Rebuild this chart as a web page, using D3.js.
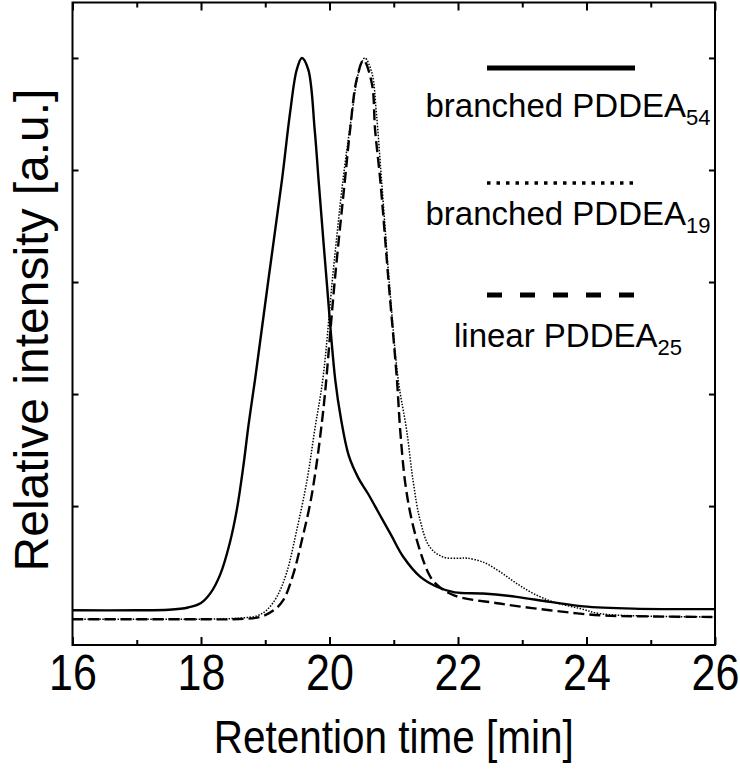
<!DOCTYPE html>
<html>
<head>
<meta charset="utf-8">
<script src="https://cdn.jsdelivr.net/npm/d3@7"></script>
<style>
  body { margin: 0; background: #fff; }
  svg text { font-family: "Liberation Sans", Arial, sans-serif; fill: #000; }
</style>
</head>
<body>
<svg id="chart"></svg>
<script>
"use strict";

// retention time [min] / relative intensity
var timeB54 = [16.0, 17.0, 17.5, 17.8, 18.0, 18.15, 18.3, 18.45, 18.56, 18.66, 18.74, 18.84, 19.05, 19.26, 19.385, 19.49, 19.57,
  19.67, 19.77, 19.83, 19.95, 20.09, 20.18, 20.3, 20.45, 20.6, 20.78, 20.96, 21.15, 21.41, 21.67, 21.95, 22.39, 22.91, 23.43, 23.95, 24.73, 26.0];
var intB54 = [0.014, 0.014, 0.015, 0.019, 0.027, 0.045, 0.078, 0.135, 0.195, 0.272, 0.345, 0.425, 0.605, 0.782, 0.901, 0.979, 1.0,
  0.979, 0.871, 0.782, 0.61, 0.425, 0.355, 0.29, 0.25, 0.222, 0.185, 0.148, 0.109, 0.074, 0.056, 0.046, 0.044, 0.038, 0.029, 0.021, 0.017, 0.016];

var timeB19 = [16.0, 17.0, 18.0, 18.6, 18.87, 19.02, 19.18, 19.33, 19.49, 19.65, 19.77, 19.9, 20.05, 20.21, 20.35, 20.45, 20.55,
  20.66, 20.73, 20.81, 20.93, 21.07, 21.2, 21.3, 21.41, 21.56, 21.77, 22.03, 22.14, 22.39, 22.65, 22.91, 23.17, 23.48, 23.9, 24.21, 24.8, 26.0];
var intB19 = [-0.002, -0.002, -0.002, 0.0, 0.004, 0.014, 0.038, 0.08, 0.157, 0.246, 0.336, 0.43, 0.61, 0.782, 0.901, 0.973, 1.0,
  0.973, 0.901, 0.782, 0.6, 0.425, 0.336, 0.246, 0.175, 0.127, 0.109, 0.107, 0.107, 0.1, 0.083, 0.062, 0.044, 0.029, 0.017, 0.008, 0.004, 0.002];

var timeL25 = [16.0, 17.0, 18.0, 18.5, 18.92, 19.13, 19.28, 19.44, 19.57, 19.7, 19.8, 19.88, 19.93, 20.08, 20.24, 20.32, 20.42, 20.53,
  20.66, 20.71, 20.79, 20.92, 21.05, 21.1, 21.18, 21.28, 21.41, 21.54, 21.64, 21.93, 22.65, 23.43, 24.21, 25.0, 26.0];
var intL25 = [-0.002, -0.002, -0.002, -0.002, 0.002, 0.014, 0.032, 0.08, 0.139, 0.205, 0.276, 0.348, 0.401, 0.6, 0.782, 0.871, 0.96, 0.996,
  0.954, 0.871, 0.782, 0.6, 0.425, 0.336, 0.24, 0.175, 0.12, 0.08, 0.063, 0.041, 0.026, 0.014, 0.005, 0.003, 0.002];

var xMajor = [16, 18, 20, 22, 24, 26];
var xMinor = [17, 19, 21, 23, 25];
var yTicks = [0.2, 0.4, 0.6, 0.8, 1.0];

var seriesNames = ["branched PDDEA", "branched PDDEA", "linear PDDEA"];
var seriesSubs = ["54", "19", "25"];

var W = 740, H = 770;
var margin = {top: 2.5, right: 25, bottom: 125, left: 72.5};

var svg = d3.select("#chart").attr("width", W).attr("height", H);

var x = d3.scaleLinear().domain([16, 26]).range([margin.left, W - margin.right]);
var y = d3.scaleLinear().domain([-0.048, 1.099]).range([H - margin.bottom, margin.top]);

function pts(t, v) {
  return t.map(function (d, i) { return [d, v[i]]; });
}

var line = d3.line()
  .x(function (d) { return x(d[0]); })
  .y(function (d) { return y(d[1]); })
  .curve(d3.curveCatmullRom.alpha(0.5));

var styles = [
  {width: 2.4, dash: null},
  {width: 1.5, dash: "1.5,1.5"},
  {width: 2.4, dash: "11,5"}
];
var series = [pts(timeB54, intB54), pts(timeB19, intB19), pts(timeL25, intL25)];

series.forEach(function (s, i) {
  svg.append("path")
    .attr("d", line(s))
    .attr("fill", "none")
    .attr("stroke", "#000")
    .attr("stroke-width", styles[i].width)
    .attr("stroke-dasharray", styles[i].dash)
    .attr("stroke-linejoin", "round");
});

// ticks pointing inward on all four sides
var yBottom = y.range()[0], yTop = y.range()[1];
var xLeft = x.range()[0], xRight = x.range()[1];

var axBottom = svg.append("g").attr("transform", "translate(0," + yBottom + ")");
axBottom.call(d3.axisBottom(x).tickValues(xMajor).tickSize(-8).tickPadding(10).tickFormat(d3.format("d")));
svg.append("g").attr("transform", "translate(0," + yBottom + ")")
  .call(d3.axisBottom(x).tickValues(xMinor).tickSize(-5).tickFormat(""));
svg.append("g").attr("transform", "translate(0," + yTop + ")")
  .call(d3.axisTop(x).tickValues(xMajor).tickSize(-8).tickFormat(""));
svg.append("g").attr("transform", "translate(0," + yTop + ")")
  .call(d3.axisTop(x).tickValues(xMinor).tickSize(-5).tickFormat(""));
svg.append("g").attr("transform", "translate(" + xLeft + ",0)")
  .call(d3.axisLeft(y).tickValues(yTicks).tickSize(-6).tickFormat(""));
svg.append("g").attr("transform", "translate(" + xRight + ",0)")
  .call(d3.axisRight(y).tickValues(yTicks).tickSize(-6).tickFormat(""));

svg.selectAll(".domain").remove();
svg.selectAll(".tick line").attr("stroke", "#000").attr("stroke-width", 2);
// the original lettering is a little narrow
axBottom.selectAll(".tick text")
  .attr("font-size", 50)
  .attr("font-family", "'Liberation Sans', Arial, sans-serif")
  .attr("transform", "scale(0.86,1)");

svg.append("rect")
  .attr("x", xLeft)
  .attr("y", yTop)
  .attr("width", xRight - xLeft)
  .attr("height", yBottom - yTop)
  .attr("fill", "none")
  .attr("stroke", "#000")
  .attr("stroke-width", 2);

svg.append("text")
  .attr("transform", "translate(" + (xLeft + xRight) / 2 + ",753) scale(0.88,1)")
  .attr("text-anchor", "middle")
  .attr("font-size", 46)
  .text("Retention time [min]");

svg.append("text")
  .attr("transform", "translate(48,330) rotate(-90)")
  .attr("text-anchor", "middle")
  .attr("font-size", 48)
  .text("Relative intensity [a.u.]");

// legend
var legendX = [487, 635];
var legendY = [68, 183, 295];
var legendTextY = [117, 225, 347];
var legendStyles = [
  {width: 5, dash: null},
  {width: 3.5, dash: "3.5,6"},
  {width: 5, dash: "15,18"}
];

legendY.forEach(function (ly, i) {
  svg.append("line")
    .attr("x1", legendX[0]).attr("x2", legendX[1])
    .attr("y1", ly).attr("y2", ly)
    .attr("stroke", "#000")
    .attr("stroke-width", legendStyles[i].width)
    .attr("stroke-dasharray", legendStyles[i].dash);

  var t = svg.append("text")
    .attr("x", 568)
    .attr("y", legendTextY[i])
    .attr("text-anchor", "middle")
    .attr("font-size", 33);
  t.append("tspan").text(seriesNames[i]);
  t.append("tspan").attr("font-size", 22).attr("dy", 8).text(seriesSubs[i]);
});
</script>
</body>
</html>
